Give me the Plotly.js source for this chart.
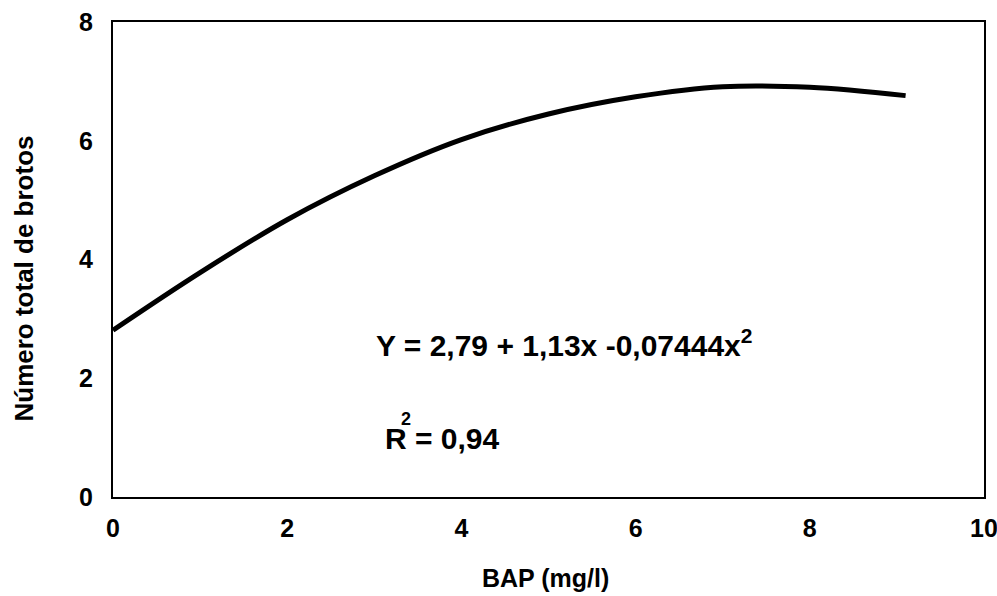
<!DOCTYPE html>
<html>
<head>
<meta charset="utf-8">
<script src="https://cdn.plot.ly/plotly-3.0.1.min.js"></script>
<style>html,body{margin:0;padding:0;background:#fff;}#chart{width:997px;height:596px;}</style>
</head>
<body>
<div id="chart"></div>
<script>
// Values
const bapX = [0, 1, 2, 3, 4, 5, 6, 7, 8, 9.1];
const brotosY = [2.81, 3.78, 4.67, 5.41, 6.02, 6.45, 6.74, 6.91, 6.90, 6.76];
const xTicks = [0, 2, 4, 6, 8, 10];
const yTicks = [0, 2, 4, 6, 8];
const xTitle = 'BAP (mg/l)';
const yTitle = 'Número total de brotos';
const eqText = 'Y = 2,79 + 1,13x -0,07444x<sup>2</sup>';
const r2Base = 'R = 0,94';
const r2Sup = '2';

const fontFam = '"Liberation Sans", Arial, sans-serif';
const bold = (size) => ({family: fontFam, size: size, color: '#000', weight: 'bold'});

Plotly.newPlot('chart', [{
  x: bapX, y: brotosY, type: 'scatter', mode: 'lines',
  line: {color: '#000', width: 5, shape: 'spline', smoothing: 1},
  showlegend: false, hoverinfo: 'skip'
}], {
  width: 997, height: 596,
  margin: {l: 113, r: 13, t: 22, b: 99},
  paper_bgcolor: '#fff', plot_bgcolor: '#fff',
  xaxis: {
    range: [0, 10], tickvals: xTicks, ticktext: xTicks.map(String),
    showgrid: false, zeroline: false, showline: true, mirror: true,
    linecolor: '#000', linewidth: 2, ticks: '', ticklabelstandoff: 8,
    ticklabeloverflow: 'allow',
    tickfont: bold(25)
  },
  yaxis: {
    range: [0, 8], tickvals: yTicks, ticktext: yTicks.map(String),
    showgrid: false, zeroline: false, showline: true, mirror: true,
    linecolor: '#000', linewidth: 2, ticks: '', ticklabelstandoff: 13,
    ticklabeloverflow: 'allow',
    tickfont: bold(25)
  },
  annotations: [
    {x: 0.496, y: -0.17, xref: 'paper', yref: 'paper', xanchor: 'center', yanchor: 'middle',
     text: xTitle, showarrow: false, font: bold(25)},
    {x: -0.1033, y: 0.46, xref: 'paper', yref: 'paper', xanchor: 'center', yanchor: 'middle',
     text: yTitle, textangle: -90, showarrow: false, font: bold(26)},
    {x: 3.0, y: 2.6, xref: 'x', yref: 'y', xanchor: 'left', yanchor: 'middle',
     text: eqText, showarrow: false, font: bold(30)},
    {x: 3.1, y: 0.98, xref: 'x', yref: 'y', xanchor: 'left', yanchor: 'middle',
     text: r2Base, showarrow: false, font: bold(30)},
    {x: 3.36, y: 1.32, xref: 'x', yref: 'y', xanchor: 'center', yanchor: 'middle',
     text: r2Sup, showarrow: false, font: bold(18)}
  ]
}, {displayModeBar: false, staticPlot: true});
</script>
</body>
</html>
